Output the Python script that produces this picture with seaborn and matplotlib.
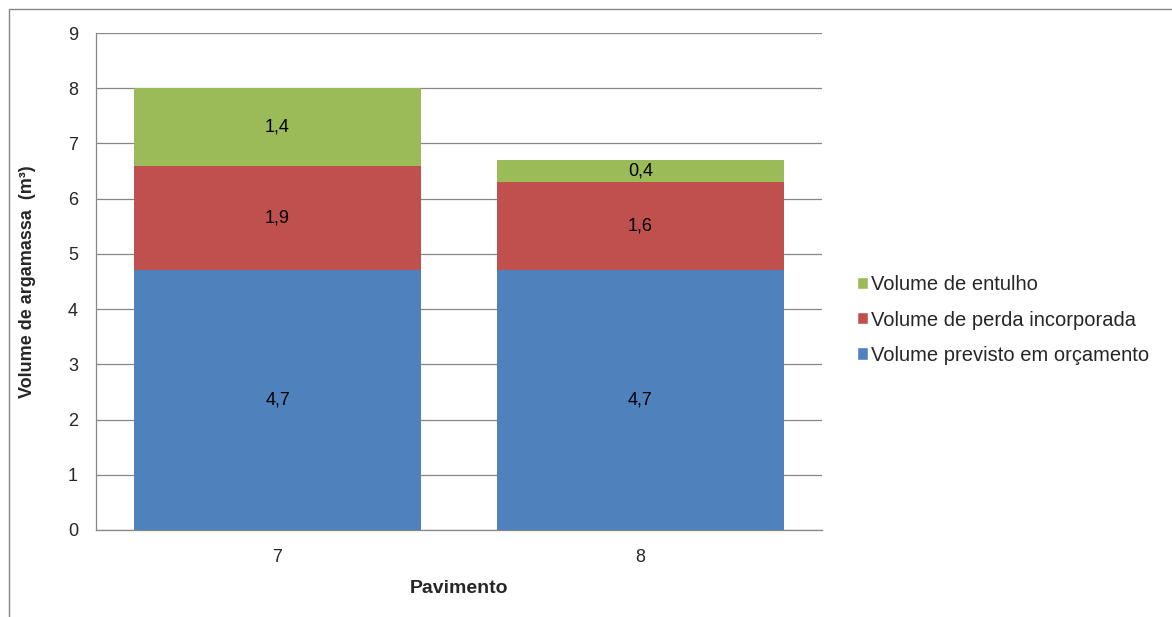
import matplotlib
matplotlib.use("Agg")
import matplotlib.pyplot as plt
import seaborn as sns
import pandas as pd
from matplotlib.patches import Rectangle, Patch

# data
pavimentos = ["7", "8"]
previsto = [4.7, 4.7]
perda = [1.9, 1.6]
entulho = [1.4, 0.4]
series_names = ["Volume previsto em orçamento", "Volume de perda incorporada", "Volume de entulho"]
colors = ["#4F81BD", "#C0504D", "#9BBB59"]

sns.set_style("white")
plt.rcParams["font.family"] = ["Liberation Sans", "DejaVu Sans"]

df = pd.DataFrame({"Pavimento": pavimentos, "previsto": previsto, "perda": perda, "entulho": entulho})

fig = plt.figure(figsize=(11.72, 6.17), dpi=100)
ax = fig.add_axes([96/1172, 1-530/617, (822-96)/1172, (530-33)/617])

bottom = [0.0] * len(pavimentos)
for col, name, c in zip(["previsto", "perda", "entulho"], series_names, colors):
    sns.barplot(data=df, x="Pavimento", y=col, color=c, width=0.79, bottom=bottom,
                ax=ax, saturation=1, linewidth=0, zorder=3)
    vals = df[col].tolist()
    for i, v in enumerate(vals):
        ax.text(i, bottom[i] + v/2, f"{v:.1f}".replace(".", ","), ha="center", va="center",
                fontsize=13, color="black", zorder=4)
    bottom = [b + v for b, v in zip(bottom, vals)]

ax.set_ylim(0, 9)
ax.set_xlim(-0.5, 1.5)
ax.set_yticks(range(0, 10))
ax.yaxis.grid(True, color="#878787", linewidth=0.9, zorder=0)
ax.set_axisbelow(True)
for s in ["top", "right"]:
    ax.spines[s].set_visible(False)
for s in ["left", "bottom"]:
    ax.spines[s].set_color("#878787")
    ax.spines[s].set_linewidth(0.9)
ax.tick_params(axis="both", length=0, labelsize=13)
ax.tick_params(axis="x", pad=14)
ax.tick_params(axis="y", pad=13)
ax.set_xlabel("Pavimento", fontsize=14, fontweight="bold", labelpad=10)
ax.set_ylabel("Volume de argamassa  (m³)", fontsize=13, fontweight="bold", labelpad=23)

handles = [Patch(facecolor=c, label=n) for c, n in zip(colors, series_names)][::-1]
fig.legend(handles=handles, loc="center left", bbox_to_anchor=(839/1172, 1-320/617),
           frameon=False, fontsize=14.5, handlelength=0.55, handleheight=0.55,
           handletextpad=0.15, labelspacing=0.8)

fig.add_artist(Rectangle((9/1172, -0.1), 1.2, 1-9/617+0.1, transform=fig.transFigure,
                         fill=False, edgecolor="#878787", linewidth=1))

fig.savefig("out.png", dpi=100)
